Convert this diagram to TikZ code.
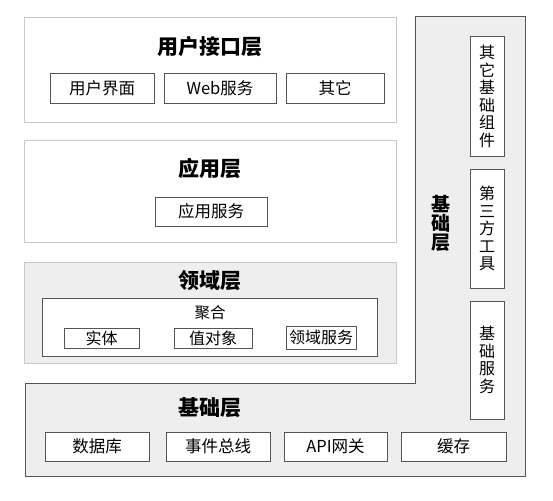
\documentclass[tikz,border=0pt]{standalone}
\usepackage{fontspec}
\setmainfont{Noto Sans CJK SC}
\definecolor{lightedge}{HTML}{C8C8C8}
\definecolor{darkedge}{HTML}{555555}
\definecolor{layerfill}{HTML}{EEEEEE}
\begin{document}
\begin{tikzpicture}[x=1pt,y=-1pt,line width=1pt,
  layer/.style={draw=lightedge},
  title/.style={font=\fontsize{21}{24}\selectfont\bfseries},
  part/.style={draw=darkedge,fill=white,inner sep=0pt,minimum height=29pt,font=\fontsize{16.5}{18}\selectfont},
  vpart/.style={part,minimum width=34pt,align=center,font=\fontsize{16}{17.5}\selectfont}]
\useasboundingbox (0,0) rectangle (553,500);

% user interface layer
\draw[layer] (24,18) rectangle (396,122);
\node[title] (uititle) at (210,47) {用户接口层};
\node[part,minimum width=104pt] (ui) at (102,88.5) {用户界面};
\node[part,minimum width=112pt] (web) at (220,88.5) {Web服务};
\node[part,minimum width=98pt] (other) at (335,88.5) {其它};

% application layer
\draw[layer] (24,140) rectangle (396,242);
\node[title] (apptitle) at (210,168) {应用层};
\node[part,minimum width=112pt] (appsvc) at (211,211.5) {应用服务};

% domain layer
\draw[layer,fill=layerfill] (24,262) rectangle (396,363);
\node[title] (domtitle) at (210,281) {领域层};
\draw[darkedge,fill=white] (42,298) rectangle (377,356);
\node[font=\fontsize{15.5}{18}\selectfont] (aggr) at (210,313) {聚合};
\node[part,minimum width=75pt,minimum height=20pt,font=\fontsize{16}{18}\selectfont] (entity) at (101.5,338) {实体};
\node[part,minimum width=78pt,minimum height=20pt,font=\fontsize{16}{18}\selectfont] (value) at (213,338) {值对象};
\node[part,minimum width=70pt,minimum height=23pt,font=\fontsize{16}{18}\selectfont] (domsvc) at (321,337.5) {领域服务};

% infrastructure layer
\draw[darkedge,fill=layerfill] (415,17) -- (525,17) -- (525,476) -- (25,476)
  -- (25,383) -- (415,383) -- cycle;
\node[title,align=center,font=\fontsize{19}{19}\selectfont\bfseries] (infv) at (441,223) {基\\础\\层};
\node[vpart,minimum height=119pt] (comp) at (487,96.5) {其\\它\\基\\础\\组\\件};
\node[vpart,minimum height=119pt] (tools) at (487,228.5) {第\\三\\方\\工\\具};
\node[vpart,minimum height=118pt] (basesvc) at (487,360) {基\\础\\服\\务};
\node[title] (inftitle) at (210,408) {基础层};
\node[part,minimum width=104pt] (db) at (97,446.5) {数据库};
\node[part,minimum width=104pt] (bus) at (218,446.5) {事件总线};
\node[part,minimum width=103pt] (api) at (335.5,446.5) {API网关};
\node[part,minimum width=105pt] (cache) at (453.5,446.5) {缓存};
\end{tikzpicture}
\end{document}
